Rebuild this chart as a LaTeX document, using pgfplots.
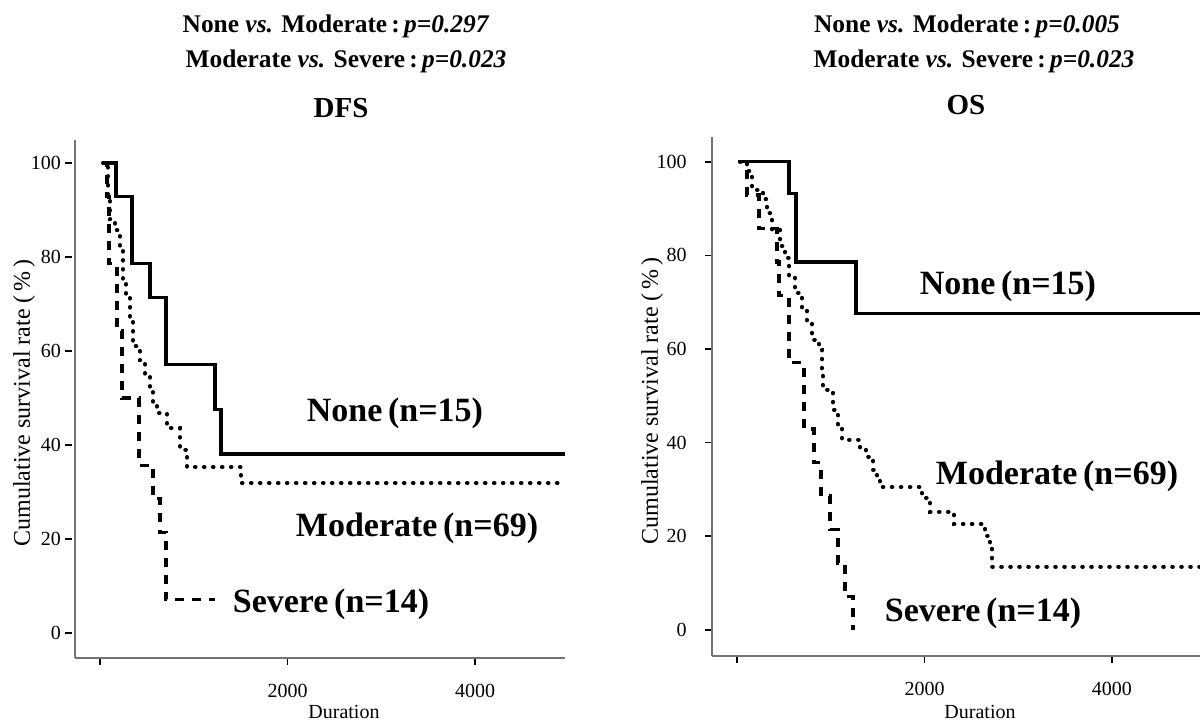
\documentclass[border=0pt]{standalone}
\usepackage{fontspec}
\setmainfont{Liberation Serif}
\usepackage{pgfplots}
\pgfplotsset{compat=1.18}
\pgfplotsset{
  kmax/.style={
    scale only axis, anchor=south west,
    axis x line*=bottom, axis y line*=left,
    axis line style={black!55, line width=0.6pt, -},
    xtick={0,2000,4000}, xticklabels={,2000,4000},
    ytick={0,20,40,60,80,100}, yticklabels={0,20,40,60,80,100},
    tick align=outside, major tick length=3.5pt,
    every tick/.style={black, line width=0.8pt},
    tick label style={font=\fontsize{10}{12}\selectfont},
    xticklabel style={yshift=-6pt},
    clip=false,
  },
  nonec/.style={const plot, black, line width=1.6pt, solid},
  modc/.style={const plot, black, line width=2pt, line cap=round, dash pattern=on 0.3pt off 4.2pt},
  sevc/.style={const plot, black, line width=1.7pt, dash pattern=on 4.5pt off 4pt},
}
\begin{document}
\begin{tikzpicture}
\useasboundingbox (0,0) rectangle (600pt,360.5pt);
% ---------------- DFS ----------------
\begin{axis}[kmax, at={(37.5pt,31.5pt)}, width=245pt, height=259pt,
  xmin=-267, xmax=4960, ymin=-5.3, ymax=104.9,
  ytick style={xshift=-1.5pt}]
\addplot[nonec] coordinates {(21,100) (171,92.9) (341,78.6) (533,71.4) (704,57.1) (1227,47.6) (1291,38.1) (4960,38.1)};
\addplot[modc] coordinates {(32,100) (85,93) (107,88) (160,85.7) (213,81.5) (245,75) (277,71.5) (320,67) (352,61) (427,58) (480,54.5) (533,51.7) (565,49) (608,46.8) (715,43.6) (853,39) (928,35.3) (1504,31.9) (4960,31.9)};
\addplot[sevc] coordinates {(21,100) (75,92.9) (96,78.6) (181,64.3) (235,50) (416,35.7) (565,28.6) (640,21.4) (704,7.1) (1227,7.1)};
\end{axis}
% ---------------- OS ----------------
\begin{axis}[kmax, at={(356pt,32.5pt)}, width=244pt, height=259.5pt,
  xmin=-267, xmax=4939, ymin=-5.6, ymax=105.3,
  yticklabel style={xshift=-5.7pt}]
\addplot[nonec] coordinates {(21,100) (555,93.3) (629,78.6) (1269,67.5) (4939,67.5)};
\addplot[modc] coordinates {(32,100) (107,98) (160,94) (277,92) (320,89) (373,85.5) (459,82) (512,79.5) (555,75.5) (619,72) (693,68.4) (747,65.6) (800,62) (875,59.8) (907,55.6) (917,51.3) (1024,47) (1077,43.4) (1120,40.6) (1312,38.9) (1376,37) (1451,34.2) (1493,32) (1525,30.5) (1973,28.2) (2059,25.2) (2315,22.6) (2645,20.1) (2699,17.7) (2720,13.5) (4939,13.5)};
\addplot[sevc] coordinates {(11,100) (107,92.9) (235,85.7) (427,78.6) (448,71.4) (555,57.1) (715,42.9) (821,35.7) (896,28.6) (992,21.4) (1077,14.3) (1152,7.1) (1237,0)};
\end{axis}
% ---------------- texts ----------------
\begin{scope}[every node/.style={inner sep=0pt, anchor=base}]
\node[font=\fontsize{12.7}{15}\selectfont\bfseries] at (168pt,344pt) {None \textit{vs.} Moderate\,:\,\textit{p=0.297}};
\node[font=\fontsize{12.7}{15}\selectfont\bfseries] at (173pt,326.5pt) {Moderate \textit{vs.} Severe\,:\,\textit{p=0.023}};
\node[font=\fontsize{14.5}{17}\selectfont\bfseries] at (170.5pt,301.5pt) {DFS};
\node[font=\fontsize{12.7}{15}\selectfont\bfseries] at (483.5pt,344pt) {None \textit{vs.} Moderate\,:\,\textit{p=0.005}};
\node[font=\fontsize{12.7}{15}\selectfont\bfseries] at (487pt,326.5pt) {Moderate \textit{vs.} Severe\,:\,\textit{p=0.023}};
\node[font=\fontsize{14.5}{17}\selectfont\bfseries] at (483pt,303pt) {OS};
\node[font=\fontsize{17}{20}\selectfont\bfseries] at (197.5pt,149.5pt) {None\,(n=15)};
\node[font=\fontsize{17}{20}\selectfont\bfseries] at (208.5pt,92pt) {Moderate\,(n=69)};
\node[font=\fontsize{17}{20}\selectfont\bfseries] at (165.5pt,54pt) {Severe\,(n=14)};
\node[font=\fontsize{17}{20}\selectfont\bfseries] at (504pt,213pt) {None\,(n=15)};
\node[font=\fontsize{17}{20}\selectfont\bfseries] at (528.5pt,118pt) {Moderate\,(n=69)};
\node[font=\fontsize{17}{20}\selectfont\bfseries] at (491.5pt,49.5pt) {Severe\,(n=14)};
\node[font=\fontsize{10}{12}\selectfont] at (172pt,1pt) {Duration};
\node[font=\fontsize{10}{12}\selectfont] at (490pt,1pt) {Duration};
\end{scope}
\node[font=\fontsize{12}{14}\selectfont, rotate=90, inner sep=0pt] at (12pt,159pt) {Cumulative survival rate (\,\%\,)};
\node[font=\fontsize{12}{14}\selectfont, rotate=90, inner sep=0pt] at (326pt,160pt) {Cumulative survival rate (\,\%\,)};
\end{tikzpicture}
\end{document}
